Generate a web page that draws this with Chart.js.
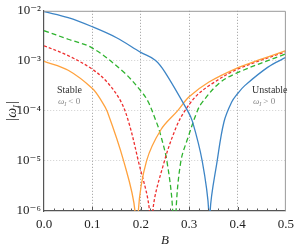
<!DOCTYPE html>
<html>
<head>
<meta charset="utf-8">
<script src="https://cdn.jsdelivr.net/npm/chart.js@4.4.1/dist/chart.umd.min.js"></script>
<style>
  html, body { margin: 0; padding: 0; background: #fff; }
  #wrap { width: 300px; height: 246px; }
</style>
</head>
<body>
<div id="wrap"><canvas id="chart" width="300" height="246"></canvas></div>
<script>
// values: B on x, |omega_I| on y (1e-8 marks the zero crossing)
const blueB = [0, 0.05, 0.1, 0.15, 0.2, 0.23, 0.25, 0.297, 0.307, 0.327, 0.3405, 0.342, 0.3435, 0.358, 0.372, 0.388, 0.4, 0.415, 0.463, 0.5];
const blueW = [9.6e-3, 7.3e-3, 4.8e-3, 2.9e-3, 1.48e-3, 1.03e-3, 5.96e-4, 1.0e-4, 6.1e-5, 1.0e-5, 1.0e-6, 1e-8, 1.0e-6, 1.0e-5, 6.0e-5, 1.5e-4, 2.2e-4, 3.2e-4, 7.5e-4, 1.17e-3];

const orangeB = [0, 0.05, 0.1, 0.12, 0.131, 0.1646, 0.188, 0.1915, 0.195, 0.212, 0.242, 0.276, 0.3, 0.341, 0.398, 0.449, 0.5];
const orangeW = [9.8e-4, 6.5e-4, 2.8e-4, 1.52e-4, 9.6e-5, 1.0e-5, 1.0e-6, 1e-8, 1.0e-6, 1.0e-5, 4.25e-5, 1.0e-4, 1.91e-4, 3.78e-4, 7.1e-4, 1.08e-3, 1.6e-3];

const redB = [0, 0.05, 0.1, 0.13, 0.158, 0.175, 0.195, 0.218, 0.2215, 0.225, 0.249, 0.273, 0.291, 0.317, 0.3476, 0.398, 0.5];
const redW = [2.0e-3, 1.27e-3, 6.8e-4, 3.8e-4, 1.6e-4, 6.0e-5, 1.0e-5, 1.0e-6, 1e-8, 1.0e-6, 1.0e-5, 4.65e-5, 1.0e-4, 2.09e-4, 3.5e-4, 6.7e-4, 1.53e-3];

const greenB = [0, 0.05, 0.1, 0.1646, 0.2018, 0.2154, 0.232, 0.239, 0.254, 0.266, 0.2695, 0.273, 0.283, 0.297, 0.317, 0.327, 0.361, 0.398, 0.5];
const greenW = [4.0e-3, 2.7e-3, 1.8e-3, 5.96e-4, 2.4e-4, 1.52e-4, 6.1e-5, 3.9e-5, 1.0e-5, 1.0e-6, 1e-8, 1.0e-6, 1.0e-5, 2.8e-5, 1.0e-4, 1.48e-4, 3.5e-4, 5.7e-4, 1.38e-3];

const xTicks = [0, 0.1, 0.2, 0.3, 0.4, 0.5];
const xTickLabels = ['0.0', '0.1', '0.2', '0.3', '0.4', '0.5'];
const yTicks = [1e-6, 1e-5, 1e-4, 1e-3, 1e-2];
const yTickLabels = ['10\u207B\u2076', '10\u207B\u2075', '10\u207B\u2074', '10\u207B\u00B3', '10\u207B\u00B2'];

const serif = '"Liberation Serif", "DejaVu Serif", serif';

function toPoints(xs, ys) {
  return xs.map((b, i) => ({x: b, y: ys[i]}));
}

function series(xs, ys, color, dash) {
  return {
    data: toPoints(xs, ys),
    borderColor: color,
    borderWidth: 1.3,
    borderDash: dash,
    pointRadius: 0,
    fill: false,
    tension: 0.35
  };
}

/** draws the frame, inner minor ticks, axis titles and the two region notes */
const extras = {
  id: 'extras',
  afterDraw(chart) {
    const {ctx, chartArea: a, scales: {x, y}} = chart;
    ctx.save();
    // top and right frame
    ctx.strokeStyle = '#999';
    ctx.lineWidth = 1;
    ctx.beginPath();
    ctx.moveTo(a.left, a.top + 0.5);
    ctx.lineTo(a.right - 0.5, a.top + 0.5);
    ctx.lineTo(a.right - 0.5, a.bottom);
    ctx.stroke();
    // small inward ticks on the B axis
    ctx.strokeStyle = '#555';
    ctx.beginPath();
    for (let k = 1; k < 25; k++) {
      const px = Math.round(x.getPixelForValue(k * 0.02)) + 0.5;
      const len = (k % 5 === 0) ? 4 : 2.5;
      ctx.moveTo(px, a.bottom);
      ctx.lineTo(px, a.bottom - len);
    }
    ctx.stroke();

    // x title
    ctx.fillStyle = '#222';
    ctx.font = 'italic 13px ' + serif;
    ctx.textAlign = 'center';
    ctx.textBaseline = 'alphabetic';
    ctx.fillText('B', (a.left + a.right) / 2, 244);

    // y title |w_I|
    ctx.save();
    ctx.translate(12, (a.top + a.bottom) / 2);
    ctx.rotate(-Math.PI / 2);
    ctx.textAlign = 'left';
    ctx.font = '14px ' + serif;
    const w1 = ctx.measureText('|').width;
    ctx.font = 'italic 14px ' + serif;
    const w2 = ctx.measureText('\u03C9').width;
    ctx.font = 'italic 9px ' + serif;
    const w3 = ctx.measureText('I').width;
    const total = w1 * 2 + w2 + w3 + 1;
    let cx = -total / 2;
    ctx.font = '14px ' + serif;
    ctx.fillText('|', cx, 4); cx += w1;
    ctx.font = 'italic 14px ' + serif;
    ctx.fillText('\u03C9', cx, 4); cx += w2;
    ctx.font = 'italic 9px ' + serif;
    ctx.fillText('I', cx, 7); cx += w3 + 1;
    ctx.font = '14px ' + serif;
    ctx.fillText('|', cx, 4);
    ctx.restore();

    // region notes
    const note = (title, sign, px, py) => {
      ctx.textAlign = 'left';
      ctx.fillStyle = '#333';
      ctx.font = '10px ' + serif;
      ctx.fillText(title, px, py);
      ctx.fillStyle = '#888';
      let cx = px + 1;
      ctx.font = 'italic 9px ' + serif;
      ctx.fillText('\u03C9', cx, py + 11); cx += ctx.measureText('\u03C9').width;
      ctx.font = 'italic 6px ' + serif;
      ctx.fillText('I', cx, py + 13); cx += ctx.measureText('I').width + 2;
      ctx.font = '9px ' + serif;
      ctx.fillText(sign, cx, py + 11);
    };
    note('Stable', '< 0', 57, 93);
    note('Unstable', '> 0', 252, 93);
    ctx.restore();
  }
};

new Chart(document.getElementById('chart'), {
  type: 'line',
  data: {
    datasets: [
      series(blueB, blueW, '#3d85c6', []),
      series(orangeB, orangeW, '#ffa23e', []),
      series(redB, redW, '#ee2f2f', [3, 2]),
      series(greenB, greenW, '#2fb32f', [5, 3])
    ]
  },
  options: {
    responsive: false,
    devicePixelRatio: 1,
    animation: false,
    layout: {padding: {top: 8, right: 10, left: 0, bottom: 0}},
    plugins: {legend: {display: false}, tooltip: {enabled: false}},
    scales: {
      x: {
        type: 'linear',
        min: 0,
        max: 0.5,
        afterFit: s => { s.height = 35; },
        afterBuildTicks: s => { s.ticks = xTicks.map(v => ({value: v})); },
        ticks: {
          callback: (v, i) => xTickLabels[i],
          font: {family: serif, size: 13},
          color: '#222',
          padding: 6,
          maxRotation: 0
        },
        grid: {
          drawTicks: false,
          color: c => (c.tick && (c.tick.value === 0 || c.tick.value === 0.5)) ? 'rgba(0,0,0,0)' : '#9a9a9a',
          lineWidth: 1
        },
        border: {display: true, color: '#555', width: 1.2, dash: [1, 2]}
      },
      y: {
        type: 'logarithmic',
        min: 1e-6,
        max: 1e-2,
        afterFit: s => { s.width = 44; },
        afterBuildTicks: s => { s.ticks = yTicks.map(v => ({value: v})); },
        ticks: {
          callback: (v, i) => yTickLabels[i],
          font: {family: serif, size: 13},
          color: '#222',
          padding: 3
        },
        grid: {
          drawTicks: false,
          color: c => (c.tick && (c.tick.value === 1e-6 || c.tick.value === 1e-2)) ? 'rgba(0,0,0,0)' : '#cfcfcf',
          lineWidth: 1
        },
        border: {display: true, color: '#555', width: 1.2, dash: [1, 2]}
      }
    }
  },
  plugins: [extras]
});
</script>
</body>
</html>
